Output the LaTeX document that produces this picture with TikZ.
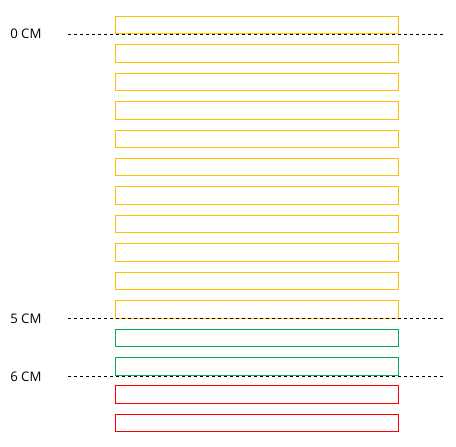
\documentclass[tikz,border=0pt]{standalone}
\usepackage{fontspec}
\setmainfont{Open Sans}
\definecolor{gold}{HTML}{FFC000}
\definecolor{grn}{HTML}{00B050}
\definecolor{rd}{HTML}{FF0000}
\begin{document}
\begin{tikzpicture}[x=0.75pt,y=-0.75pt,
  bar/.style={draw=#1, line width=0.75pt, rectangle, inner sep=0pt, minimum width=212.5pt, minimum height=13.1pt},
  cmlabel/.style={anchor=west, inner sep=0pt, font=\fontsize{9.9pt}{12pt}\selectfont},
  level/.style={black, line width=0.75pt, dash pattern=on 2.4pt off 2.1pt}]
\useasboundingbox (0,0) rectangle (456,446);
\foreach \i in {0,...,10} {
  \node[bar=gold] (r\i) at (257,{25.1+28.43*\i}) {};
}
\node[bar=grn] (r11) at (257,{25.1+28.43*11}) {};
\node[bar=grn] (r12) at (257,{25.1+28.43*12}) {};
\node[bar=rd] (r13) at (257,{25.1+28.43*13}) {};
\node[bar=rd] (r14) at (257,{25.1+28.43*14}) {};
\node[cmlabel] (l0) at (10,34) {0 CM};
\node[cmlabel] (l5) at (10,318.3) {5 CM};
\node[cmlabel] (l6) at (10,376.3) {6 CM};
\coordinate (a0) at (68,34);   \coordinate (b0) at (444,34);
\coordinate (a5) at (68,318.3); \coordinate (b5) at (444,318.3);
\coordinate (a6) at (68,376.3); \coordinate (b6) at (444,376.3);
\draw[level] (a0) -- (b0);
\draw[level] (a5) -- (b5);
\draw[level] (a6) -- (b6);
\end{tikzpicture}
\end{document}
